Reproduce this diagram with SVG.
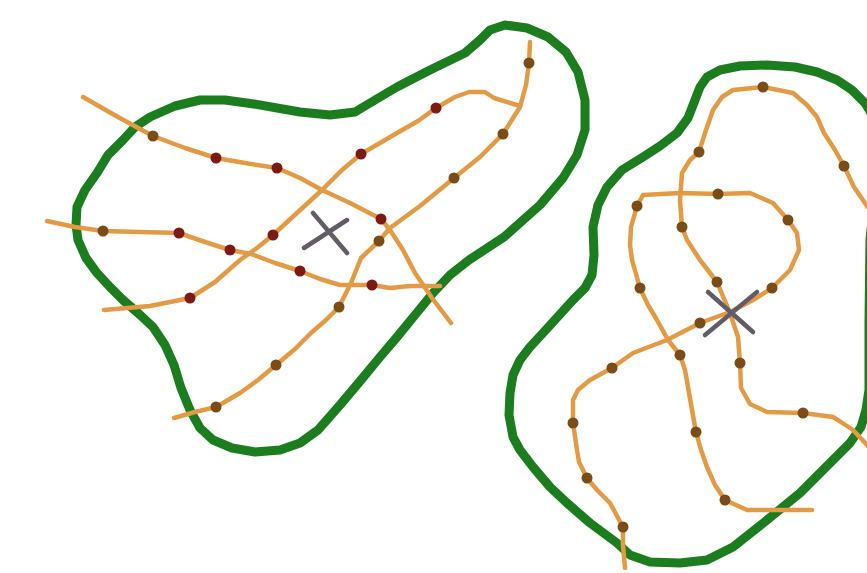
<svg xmlns="http://www.w3.org/2000/svg" width="867" height="573" viewBox="0 0 867 573">
<style>
.zone{fill:none;stroke:#1b7d1e;stroke-width:9;stroke-linejoin:round;stroke-linecap:round}
.route{fill:none;stroke:#e39a45;stroke-width:4.5;stroke-linejoin:round;stroke-linecap:round}
.red{fill:#7c1a14}
.brn{fill:#7a4c18}
.cross{fill:none;stroke:#625c66;stroke-width:4.5;stroke-linecap:round}
</style>
<rect width="867" height="573" fill="#ffffff"/>
<g id="zones">
<path class="zone" d="M200,100 L175,106 L150,117 L135,127 L123,140 L108,155 L97,173 L85,190 L77,207 L76,225 L78,240 L86,258 L97,273 L110,287 L123,300 L138,313 L153,327 L165,345 L174,365 L181,388 L190,410 L200,428 L213,440 L232,448 L255,452 L280,450 L300,443 L318,430 L340,405 L361,380 L380,357 L397,337 L415,315 L433,293 L450,275 L469,260 L504,237 L540,205 L563,178 L577,155 L585,130 L585,100 L578,72 L566,52 L548,37 L527,28 L505,25 L490,30 L480,40 L465,53 L430,70 L397,87 L375,100 L355,112 L330,115 L300,112 L254,104 L225,100 Z"/>
<path class="zone" d="M707,77 L720,70 L740,66 L767,65 L795,67 L817,72 L837,80 L852,90 L865,103 L874,118 L877,150 L874,200 L870,240 L869,320 L869,390 L866,410 L861,427 L850,443 L833,460 L800,493 L767,520 L733,547 L707,560 L680,563 L650,562 L630,555 L617,543 L590,523 L567,503 L550,487 L533,467 L520,450 L513,437 L509,415 L510,393 L513,375 L520,360 L530,347 L543,333 L573,300 L585,288 L592,275 L594,255 L593,227 L598,205 L607,187 L622,170 L643,157 L660,146 L677,133 L688,118 L695,100 L700,87 Z"/>
</g>
<g id="connectors">
<path class="route" d="M83,97 L118,117 L153,136 L185,148 L216,158 L245,163 L277,168 L300,178 L322,190 L350,203 L381,219 L390,230 L403,250 L415,273 L432,298 L451,323"/>
<path class="route" d="M47,221 L75,227 L103,231 L140,232 L179,233 L205,242 L230,250 L251,254 L275,263 L300,271 L320,279 L340,285 L372,285 L390,288 L410,286 L440,286"/>
<path class="route" d="M104,310 L150,306 L190,298 L215,282 L240,260 L257,248 L273,235 L298,212 L322,190 L342,170 L361,154 L380,143 L397,133 L418,121 L436,108 L455,97 L469,92 L485,92 L494,98 L520,106"/>
<path class="route" d="M174,418 L195,412 L216,407 L240,393 L258,380 L276,365 L295,349 L311,333 L326,320 L339,307 L351,283 L361,258 L379,241 L390,228 L420,206 L454,178 L480,157 L503,134 L520,107 L526,85 L529,63 L530,42"/>
<path class="route" d="M625,568 L623,545 L623,527 L610,503 L597,490 L587,478 L579,462 L577,450 L573,423 L573,400 L578,390 L590,380 L612,368 L633,353 L667,340 L700,323 L730,312 L753,300 L772,288 L790,270 L799,250 L797,233 L788,220 L773,203 L750,193 L718,194 L680,193 L643,195 L637,206 L631,227 L630,245 L632,260 L640,288 L648,305 L657,320 L668,340 L680,355 L685,370 L688,387 L692,410 L696,432 L701,450 L707,467 L715,485 L725,500 L747,510 L780,510 L812,510"/>
<path class="route" d="M869,447 L853,430 L844,424 L833,417 L803,413 L767,412 L750,404 L741,388 L740,363 L738,337 L730,313 L717,282 L700,260 L687,240 L682,227 L680,200 L682,173 L690,160 L699,152 L706,130 L713,110 L722,97 L733,90 L763,87 L793,93 L807,105 L817,117 L824,133 L835,150 L844,166 L854,187 L869,209"/>
</g>
<g id="stops">
<circle class="brn" cx="153" cy="136" r="5.5"/>
<circle class="red" cx="216" cy="158" r="5.5"/>
<circle class="red" cx="277" cy="168" r="5.5"/>
<circle class="red" cx="381" cy="219" r="5.5"/>
<circle class="brn" cx="103" cy="231" r="5.5"/>
<circle class="red" cx="179" cy="233" r="5.5"/>
<circle class="red" cx="230" cy="250" r="5.5"/>
<circle class="red" cx="300" cy="271" r="5.5"/>
<circle class="red" cx="372" cy="285" r="5.5"/>
<circle class="red" cx="190" cy="298" r="5.5"/>
<circle class="red" cx="273" cy="235" r="5.5"/>
<circle class="red" cx="361" cy="154" r="5.5"/>
<circle class="red" cx="436" cy="108" r="5.5"/>
<circle class="brn" cx="216" cy="407" r="5.5"/>
<circle class="brn" cx="276" cy="365" r="5.5"/>
<circle class="brn" cx="339" cy="307" r="5.5"/>
<circle class="brn" cx="379" cy="241" r="5.5"/>
<circle class="brn" cx="454" cy="178" r="5.5"/>
<circle class="brn" cx="503" cy="134" r="5.5"/>
<circle class="brn" cx="529" cy="63" r="5.5"/>
<circle class="brn" cx="623" cy="527" r="5.5"/>
<circle class="brn" cx="587" cy="478" r="5.5"/>
<circle class="brn" cx="573" cy="423" r="5.5"/>
<circle class="brn" cx="612" cy="368" r="5.5"/>
<circle class="brn" cx="700" cy="323" r="5.5"/>
<circle class="brn" cx="772" cy="288" r="5.5"/>
<circle class="brn" cx="788" cy="220" r="5.5"/>
<circle class="brn" cx="718" cy="194" r="5.5"/>
<circle class="brn" cx="637" cy="206" r="5.5"/>
<circle class="brn" cx="640" cy="288" r="5.5"/>
<circle class="brn" cx="680" cy="355" r="5.5"/>
<circle class="brn" cx="696" cy="432" r="5.5"/>
<circle class="brn" cx="725" cy="500" r="5.5"/>
<circle class="brn" cx="803" cy="413" r="5.5"/>
<circle class="brn" cx="740" cy="363" r="5.5"/>
<circle class="brn" cx="717" cy="282" r="5.5"/>
<circle class="brn" cx="682" cy="227" r="5.5"/>
<circle class="brn" cx="699" cy="152" r="5.5"/>
<circle class="brn" cx="763" cy="87" r="5.5"/>
<circle class="brn" cx="844" cy="166" r="5.5"/>
</g>
<g id="centers">
<path class="cross" d="M313,213 L347,253 M304,248 L347,220"/>
<path class="cross" d="M708,292 L753,332 M705,335 L757,292"/>
</g>
</svg>
